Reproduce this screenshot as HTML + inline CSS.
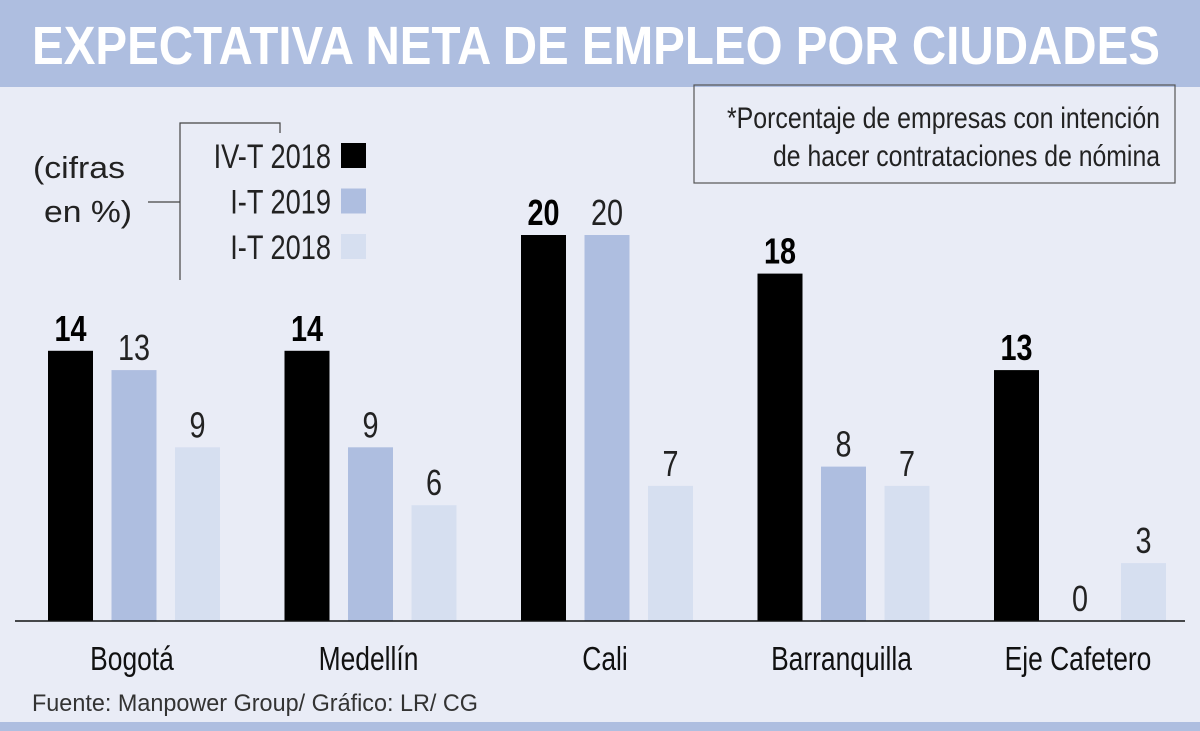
<!DOCTYPE html>
<html><head><meta charset="utf-8">
<style>
html,body{margin:0;padding:0;background:#e9ecf6;}
svg{display:block;font-family:"Liberation Sans Narrow","Liberation Sans",sans-serif;}
</style></head>
<body>
<svg id="chart" width="1200" height="731" viewBox="0 0 1200 731">
<rect x="0" y="0" width="1200" height="731" fill="#e9ecf6"/>
<rect x="0" y="0" width="1200" height="87" fill="#aebee0"/>
<text x="32" y="64" font-size="54" font-weight="bold" fill="#fff" textLength="1128" lengthAdjust="spacingAndGlyphs">EXPECTATIVA NETA DE EMPLEO POR CIUDADES</text>
<rect x="0" y="722" width="1200" height="9" fill="#aebee0"/>
<rect x="694" y="85" width="481" height="98" fill="none" stroke="#555" stroke-width="1.2"/>
<text x="727" y="128" font-size="30" fill="#222" textLength="433" lengthAdjust="spacingAndGlyphs">*Porcentaje de empresas con intención</text>
<text x="773" y="166" font-size="30" fill="#222" textLength="387" lengthAdjust="spacingAndGlyphs">de hacer contrataciones de nómina</text>
<text x="33" y="178" font-size="31" fill="#222" textLength="92" lengthAdjust="spacingAndGlyphs">(cifras</text>
<text x="44" y="222" font-size="31" fill="#222" textLength="88" lengthAdjust="spacingAndGlyphs">en %)</text>
<path d="M148 202 H180 M180 280 V123 H280 V133" fill="none" stroke="#444" stroke-width="1.2"/>
<g id="legend"></g>
<g id="bars"></g>
<line x1="15" y1="621" x2="1185" y2="621" stroke="#111" stroke-width="1.5"/>
<g id="cats"></g>
<text x="32" y="711" font-size="24" fill="#333" textLength="446" lengthAdjust="spacingAndGlyphs">Fuente: Manpower Group/ Gráfico: LR/ CG</text>
</svg>
<script>
const categories=["Bogotá","Medellín","Cali","Barranquilla","Eje Cafetero"];
const seriesNames=["IV-T 2018","I-T 2019","I-T 2018"];
const seriesIV2018=[14,14,20,18,13];
const seriesI2019=[13,9,20,8,0];
const seriesI2018=[9,6,7,7,3];
const series=[seriesIV2018,seriesI2019,seriesI2018];
const colors=["#000000","#aebee0","#d6dff0"];
const NS="http://www.w3.org/2000/svg";
const baseY=621, pxPerUnit=19.3;
function yScale(v){return baseY-v*pxPerUnit;}
function groupX(i){return 48+i*236.5;}
const barW=45, step=63.5;
function squeeze(t,x,s){t.setAttribute('transform','translate('+x+',0) scale('+s+',1) translate('+(-x)+',0)');}
const bars=document.getElementById('bars');
series.forEach((s,si)=>{
  s.forEach((v,ci)=>{
    const x=groupX(ci)+si*step;
    const r=document.createElementNS(NS,'rect');
    r.setAttribute('x',x);r.setAttribute('y',yScale(v));
    r.setAttribute('width',barW);r.setAttribute('height',baseY-yScale(v));
    r.setAttribute('fill',colors[si]);
    
    
    bars.appendChild(r);
    const t=document.createElementNS(NS,'text');
    t.setAttribute('x',x+barW/2);t.setAttribute('y',yScale(v)-10);
    t.setAttribute('text-anchor','middle');t.setAttribute('font-size','36');
    t.setAttribute('fill',si==0?'#000':'#222');
    if(si==0)t.setAttribute('font-weight','bold');
    t.textContent=v;
    squeeze(t,x+barW/2,0.8);
    
    
    bars.appendChild(t);
  });
});
const cats=document.getElementById('cats');
categories.forEach((c,ci)=>{
  const cx=groupX(ci)+step+barW/2-2;
  const t=document.createElementNS(NS,'text');
  t.setAttribute('x',cx);t.setAttribute('y',670);
  t.setAttribute('text-anchor','middle');t.setAttribute('font-size','33');
  t.setAttribute('fill','#111');
  t.textContent=c;
  squeeze(t,cx,0.8);
  
  
  cats.appendChild(t);
});
const leg=document.getElementById('legend');
seriesNames.forEach((n,i)=>{
  const y=143+i*45.5;
  const r=document.createElementNS(NS,'rect');
  r.setAttribute('x',341);r.setAttribute('y',y);r.setAttribute('width',25);r.setAttribute('height',25);
  r.setAttribute('fill',colors[i]);
  
  
  leg.appendChild(r);
  const t=document.createElementNS(NS,'text');
  t.setAttribute('x',331);t.setAttribute('y',y+25);t.setAttribute('text-anchor','end');
  t.setAttribute('font-size','34');t.setAttribute('fill','#222');
  t.textContent=n;
  squeeze(t,331,0.8);
  
  
  leg.appendChild(t);
});
</script>
</body></html>
